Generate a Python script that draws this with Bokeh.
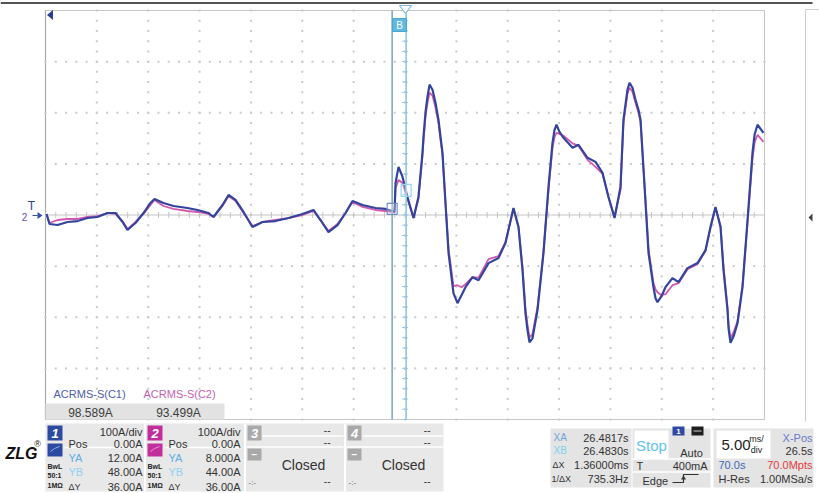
import numpy as np
from bokeh.plotting import figure
from bokeh.models import Range1d
from bokeh.core.properties import value
from bokeh.embed import file_html
from bokeh.resources import INLINE

# ---------------- data (time in ms on screen, current in A) ----------------
t_ms = [0.10, 0.39, 1.17, 2.14, 3.12, 4.09, 5.06, 6.04, 6.82, 7.50,
        7.98, 8.76, 9.54, 10.22, 10.61, 11.49, 12.46, 13.82, 14.80, 15.87,
        16.36, 17.23, 17.82, 18.50, 19.28, 20.15, 21.13, 22.39, 23.66, 25.02,
        26.09, 26.77, 27.55, 28.43, 29.21, 29.89, 30.86, 32.13, 33.10, 33.78,
        33.98, 34.08, 34.37, 34.76, 35.24, 35.83, 36.31, 36.70, 36.80, 37.00,
        37.19, 37.39, 37.68, 37.97, 38.26, 38.46, 38.65, 38.94, 39.24, 39.72,
        40.11, 40.50, 40.89, 41.57, 42.16, 43.13, 44.10, 44.78, 45.56, 46.05,
        46.44, 46.73, 46.93, 47.12, 47.41, 47.90, 48.48, 48.97, 49.36, 49.56,
        49.75, 50.04, 50.43, 51.31, 51.89, 52.77, 53.55, 54.23, 54.81, 55.40,
        55.98, 56.27, 56.66, 56.86, 57.15, 57.44, 57.73, 57.93, 58.42, 58.71,
        59.19, 59.39, 59.58, 59.97, 60.36, 61.04, 61.63, 62.50, 63.48, 64.26,
        64.74, 65.23, 65.72, 66.01, 66.40, 66.50, 66.69, 66.99, 67.37, 67.86,
        68.35, 68.83, 69.03, 69.32, 69.90]

c1_amps = [2.0, -17.6, -19.6, -13.7, -11.8, -5.9, -3.9, 3.9, 3.9, -13.7,
           -29.4, -15.7, 3.9, 23.5, 31.4, 23.5, 17.6, 13.7, 9.8, 3.9,
           -3.9, 19.6, 39.2, 29.4, 5.9, -23.5, -13.7, -11.8, -5.9, 2.0,
           9.8, -9.8, -33.3, -19.6, 3.9, 27.5, 19.6, 13.7, 11.8, 7.8,
           5.9, 62.7, 94.1, 74.5, 35.3, -5.9, 35.3, 121.6, 152.9, 202.0,
           231.4, 254.9, 245.1, 219.6, 186.3, 152.9, 121.6, 23.5, -74.5, -152.9,
           -172.5, -156.9, -141.2, -121.6, -127.5, -94.1, -84.3, -54.9, 13.7, -23.5,
           -107.8, -192.2, -225.5, -249.0, -241.2, -186.3, -74.5, 54.9, 141.2, 166.7,
           176.5, 162.7, 151.0, 131.4, 137.3, 111.8, 103.9, 82.4, 35.3, -5.9,
           54.9, 186.3, 245.1, 258.8, 249.0, 225.5, 205.9, 186.3, 23.5, -74.5,
           -141.2, -162.7, -170.6, -158.8, -141.2, -123.5, -131.4, -103.9, -94.1, -68.6,
           -23.5, 15.7, -23.5, -107.8, -186.3, -221.6, -250.0, -237.3, -211.8, -141.2,
           -9.8, 121.6, 156.9, 176.5, 160.8]

c2_amps = [2.0, -15.7, -9.8, -7.8, -7.8, -3.9, -2.0, 3.9, 2.0, -11.8,
           -27.5, -13.7, 2.0, 19.6, 29.4, 17.6, 11.8, 7.8, 5.9, 2.0,
           -3.9, 17.6, 37.3, 27.5, 3.9, -21.6, -13.7, -9.8, -5.9, 0.0,
           7.8, -9.8, -31.4, -17.6, 3.9, 25.5, 15.7, 9.8, 7.8, 5.9,
           5.9, 52.9, 68.6, 62.7, 31.4, -5.9, 31.4, 115.7, 145.1, 192.2,
           219.6, 239.2, 233.3, 210.0, 180.4, 147.1, 117.6, 25.5, -66.7, -139.2,
           -137.3, -141.2, -135.3, -121.6, -122.5, -86.3, -80.4, -52.9, 11.8, -23.5,
           -102.0, -184.3, -215.7, -239.2, -233.3, -180.4, -72.5, 49.0, 131.4, 152.9,
           160.8, 158.8, 155.0, 140.0, 135.3, 107.8, 94.1, 80.4, 35.3, -3.9,
           49.0, 180.4, 237.3, 249.0, 241.2, 219.6, 200.0, 182.4, 27.5, -66.7,
           -133.3, -145.1, -151.0, -156.9, -155.0, -137.3, -133.3, -106.0, -96.1, -70.6,
           -25.5, 13.7, -21.6, -102.0, -180.4, -213.7, -241.2, -229.4, -207.8, -137.3,
           -13.7, 109.8, 141.2, 156.9, 143.1]

# cursors
XA_ms = 33.75
DX_ms = 1.36
XB_ms = XA_ms + DX_ms
YA_A = 12.0
YB_A = 48.0

# grid
MS_PER_DIV = 5
N_HDIV = 14
A_PER_DIV = 100
N_VDIV = 8

# ---------------- layout (reference pixels) ----------------
W, H = 819, 493
GL, GR, GT, GB = 45, 764, 10, 419
T_MAX = MS_PER_DIV * N_HDIV
A_MAX = A_PER_DIV * N_VDIV / 2
ms_px = T_MAX / (GR - GL)
a_px = 2 * A_MAX / (GB - GT)

p = figure(width=W, height=H, output_backend="svg", toolbar_location=None,
           x_range=Range1d(-GL * ms_px, T_MAX + (W - GR) * ms_px),
           y_range=Range1d(-A_MAX - (H - GB) * a_px, A_MAX + GT * a_px),
           x_axis_location=None, y_axis_location=None, min_border=0,
           outline_line_color=None, background_fill_color="white", title=None)
p.grid.visible = False
p.extra_x_ranges = {"px": Range1d(0, W)}
p.extra_y_ranges = {"px": Range1d(H, 0)}

FONT = "Liberation Sans"
PX = dict(x_range_name="px", y_range_name="px")


def box(l, r, t, b, fill, line=None, lw=1):
    p.quad(left=[l], right=[r], top=[t], bottom=[b], fill_color=fill,
           line_color=line, line_width=lw, **PX)


def txt(x, y, s, color="#333333", size=11, align="left", style="normal"):
    p.text(x=[x], y=[y], text=[s], text_color=color, text_font_size=f"{size}px",
           text_align=align, text_baseline="middle", text_font=value(FONT),
           text_font_style=style, **PX)


def pline(xs, ys, color, lw=1):
    p.line(x=xs, y=ys, line_color=color, line_width=lw, **PX)


# top rule of the screen
pline([0, 812], [2.5, 2.5], "#1a1a1a", 1.5)

# ---------------- scope grid ----------------
p.quad(left=[0], right=[T_MAX], top=[A_MAX], bottom=[-A_MAX], fill_color="white",
       line_color="#c6c6c6", line_width=1)
p.line(x=[0, 0], y=[-A_MAX, A_MAX], line_color="#a9a9a9", line_width=1.2)

vt = np.arange(MS_PER_DIV, T_MAX, MS_PER_DIV)
va = np.arange(-A_MAX, A_MAX + 1, A_PER_DIV / 5)
gx1, gy1 = np.meshgrid(vt, va)
ha = np.array([a for a in np.arange(-A_MAX + A_PER_DIV, A_MAX, A_PER_DIV) if a != 0])
ht = np.arange(0, T_MAX + 0.01, MS_PER_DIV / 5)
gx2, gy2 = np.meshgrid(ht, ha)
p.scatter(x=np.concatenate([gx1.ravel(), gx2.ravel()]),
          y=np.concatenate([gy1.ravel(), gy2.ravel()]),
          marker="square", size=2, fill_color="#cacaca", line_color=None)

# centre axes with ticks
p.line(x=[0, T_MAX], y=[0, 0], line_color="#c4c4c4", line_width=1)
p.segment(x0=ht, y0=np.full(len(ht), -3 * a_px), x1=ht, y1=np.full(len(ht), 3 * a_px),
          line_color="#c4c4c4", line_width=1)
p.segment(x0=np.full(len(va), T_MAX / 2 - 3 * ms_px), y0=va,
          x1=np.full(len(va), T_MAX / 2 + 3 * ms_px), y1=va,
          line_color="#9ccbe3", line_width=1)

# ---------------- traces ----------------
p.line(x=t_ms, y=c2_amps, line_color="#d257ad", line_width=1.8)
p.line(x=t_ms, y=c1_amps, line_color="#33449e", line_width=2.2)

# ---------------- cursors ----------------
p.line(x=[XA_ms, XA_ms], y=[-A_MAX, A_MAX], line_color="#7eabc8", line_width=1.6)
p.line(x=[XB_ms, XB_ms], y=[-A_MAX, A_MAX], line_color="#8ec6e4", line_width=1.6)
p.rect(x=[XA_ms], y=[YA_A], width=10, height=11, width_units="screen",
       height_units="screen", fill_color="white", fill_alpha=0.3, line_color="#6f8fc0", line_width=1.2)
p.rect(x=[XB_ms], y=[YB_A], width=10, height=12, width_units="screen",
       height_units="screen", fill_color="white", fill_alpha=0.3, line_color="#8fd6f2", line_width=1.2)

# B cursor label and trigger-position marker
box(392, 406, 18, 31, "#62b9e0", "#4aa6d0")
txt(399, 25, "B", "white", 10, "center")
p.patch(x=[399, 411, 405], y=[5, 5, 13], fill_color="white", line_color="#7fb8dc", line_width=1.2, **PX)

# left-side markers
p.patch(x=[46.5, 52.5, 52.5], y=[14.5, 9.5, 19.5], fill_color="#2b3f90", line_color=None, **PX)
txt(31, 205, "T", "#2b3f90", 12, "center")
txt(24, 216, "2", "#6a4fa5", 10, "center")
pline([32, 37], [215, 215], "#3050a0", 1)
p.patch(x=[37, 37, 42], y=[211.5, 218.5, 215], fill_color="#3050a0", line_color=None, **PX)

# right neighbouring panel edge
pline([805, 805, 819], [421, 9, 9], "#cfcfcf", 1)
p.patch(x=[808, 812, 812], y=[217, 213, 221], fill_color="#404040", line_color=None, **PX)

# ---------------- measurement readout ----------------
txt(53, 393, "ACRMS-S(C1)", "#4d5cae", 11)
txt(143, 393, "ACRMS-S(C2)", "#c45fb2", 11)
box(45, 224, 403, 419, "#e2e2e2")
txt(90, 412, "98.589A", "#3c3c3c", 12, "center")
txt(178, 412, "93.499A", "#3c3c3c", 12, "center")

# ---------------- channel panels ----------------
box(45, 443, 423, 491, "#e8e8e8")
for xs in (144.5, 244.5, 344.5):
    pline([xs, xs], [423, 491], "white", 2)

chan = [
    ("1", "#2c4aa2", ["100A/div", "0.00A", "12.00A", "48.00A", "36.00A"]),
    ("2", "#c22f9c", ["100A/div", "0.00A", "8.000A", "44.00A", "36.00A"]),
]
for i, (num, col, vals) in enumerate(chan):
    x0 = 45 + 100 * i
    xr = 142 + 98 * i
    pline([x0 + 19, xr + 1], [447, 447], "white", 1.5)
    box(x0 + 2, x0 + 17, 425, 440, col)
    txt(x0 + 9.5, 433, num, "white", 13, "center", "bold italic")
    box(x0 + 2, x0 + 17, 443, 456, col)
    pline([x0 + 5, x0 + 9, x0 + 14], [451, 448, 446], "#8fb4e8" if i == 0 else "#e39ad0", 1)
    txt(x0 + 2, 466, "BwL", "#222222", 7, "left", "bold")
    txt(x0 + 2, 475, "50:1", "#222222", 7, "left", "bold")
    txt(x0 + 2, 485, "1MΩ", "#222222", 7, "left", "bold")
    txt(xr, 431, vals[0], "#333333", 11, "right")
    txt(x0 + 23, 443, "Pos", "#333333", 11)
    txt(xr, 443, vals[1], "#333333", 11, "right")
    txt(x0 + 23, 457, "YA", "#5aaee4", 11)
    txt(xr, 457, vals[2], "#333333", 11, "right")
    txt(x0 + 23, 471, "YB", "#8fd2f2", 11)
    txt(xr, 471, vals[3], "#333333", 11, "right")
    txt(x0 + 23, 486, "ΔY", "#333333", 9)
    txt(xr, 486, vals[4], "#333333", 11, "right")

for i, num in enumerate(["3", "4"]):
    x0 = 245 + 100 * i
    xr = 330 + 100 * i
    pline([x0 + 17, x0 + 98], [435.5, 435.5], "white", 1.5)
    pline([x0 + 1, x0 + 98], [446.5, 446.5], "white", 1.5)
    box(x0 + 2, x0 + 16, 425, 440, "#a9a9a9")
    txt(x0 + 9, 433, num, "white", 13, "center", "bold italic")
    box(x0 + 2, x0 + 16, 448, 460, "#a9a9a9")
    txt(x0 + 9, 453, "−", "white", 10, "center", "bold")
    txt(xr, 429, "--", "#333333", 10, "right")
    txt(xr, 441, "--", "#333333", 10, "right")
    txt(x0 + 58, 464, "Closed", "#333333", 14, "center")
    txt(x0 + 3, 482, "-:-", "#666666", 8)
    txt(xr, 480, "--", "#333333", 10, "right")

# ZLG logo
txt(21, 453, "ZLG", "#111111", 16, "center", "bold italic")
txt(37, 443, "®", "#111111", 9, "center")

# ---------------- cursor readout ----------------
box(550, 631, 428, 487, "#e4e4e4")
txt(553, 437, "XA", "#6fa4da", 10)
txt(628, 437, "26.4817s", "#333333", 11, "right")
txt(553, 450, "XB", "#80d0f2", 10)
txt(628, 450, "26.4830s", "#333333", 11, "right")
txt(552, 464, "ΔX", "#333333", 9)
txt(628, 464, "1.36000ms", "#333333", 11, "right")
txt(551, 478, "1/ΔX", "#333333", 9)
txt(628, 478, "735.3Hz", "#333333", 11, "right")

# ---------------- trigger panel ----------------
box(632, 710, 428, 487, "#e4e4e4")
box(634, 668, 430, 458, "white")
txt(651, 445, "Stop", "#5ec4ec", 15, "center")
box(672, 684, 426, 435, "#2c4aa2")
txt(678, 430.5, "1", "white", 8, "center", "bold")
box(691, 703, 426, 435, "#1e1e1e")
pline([693, 701], [430.5, 430.5], "#cccccc", 1)
txt(691, 452, "Auto", "#333333", 11, "center")
pline([632, 710], [458.5, 458.5], "white", 1.5)
txt(636, 465, "T", "#333333", 11)
txt(707, 465, "400mA", "#333333", 11, "right")
pline([632, 710], [471.5, 471.5], "white", 1.5)
txt(642, 480, "Edge", "#333333", 11)
pline([672, 683, 683, 698], [482, 482, 474, 474], "#333333", 1.2)
p.patch(x=[680.5, 685.5, 683], y=[479, 479, 475], fill_color="#333333", line_color=None, **PX)

# ---------------- timebase panel ----------------
box(713, 813, 428, 487, "#e4e4e4")
box(716, 770, 430, 458, "white")
txt(721, 444, "5.00", "#222222", 15)
txt(756, 438, "ms/", "#222222", 9, "center")
txt(756, 449, "div", "#222222", 9, "center")
txt(812, 437, "X-Pos", "#6a78cc", 11, "right")
txt(812, 450, "26.5s", "#333333", 11, "right")
txt(718, 464, "70.0s", "#3a6ab8", 11)
txt(812, 464, "70.0Mpts", "#e23a3a", 11, "right")
txt(718, 478, "H-Res", "#333333", 11)
txt(812, 478, "1.00MSa/s", "#333333", 11, "right")

open("out.html", "w").write(file_html(p, INLINE))
